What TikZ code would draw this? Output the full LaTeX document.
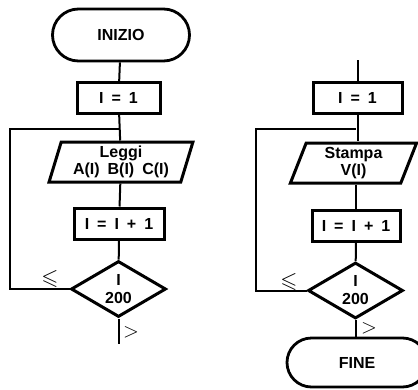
\documentclass[tikz,border=0pt]{standalone}
\usepackage{amssymb}
\usepackage{fontspec}
\setmainfont{Liberation Sans}[WordSpace=1.8]
\usetikzlibrary{shapes.geometric,shapes.misc}
\begin{document}
\begin{tikzpicture}[x=1pt, y=-1pt,
		every node/.style={font=\fontsize{16}{17}\selectfont\bfseries, align=center},
		box/.style={draw, line width=3pt, minimum width=#1, minimum height=31pt, inner sep=0pt},
		term/.style={draw, line width=2.8pt, rounded rectangle, minimum width=#1, minimum height=52pt, inner sep=0pt},
		io/.style={draw, line width=3pt, trapezium, trapezium left angle=73, trapezium right angle=107,
			trapezium stretches, minimum width=#1, minimum height=40pt, inner sep=0pt},
		test/.style={draw, line width=3pt, diamond, aspect=1.7, minimum width=95pt, minimum height=56pt,
			inner sep=0pt, font=\fontsize{16}{18}\selectfont\bfseries},
		flow/.style={line width=2pt},
		cmp/.style={font=\fontsize{22}{24}\selectfont}]
		\useasboundingbox (0,0) rectangle (418,389);
		
		% Lettura
		\node[term=137pt] (inizio) at (121, 35) {INIZIO};
		\node[box=83pt] (uno) at (118.5, 98) {I = 1};
		\node[io=144pt] (leggi) at (121, 162) {Leggi\\A(I) B(I) C(I)};
		\node[box=90pt] (incr) at (119, 223.5) {I = I + 1};
		\node[test] (test) at (118.5, 289) {I\\200};
		\coordinate (giu) at (118.5, 344);
		\coordinate (ritA) at (10, 289);
		\coordinate (ritB) at (10, 129);
		\coordinate (ritC) at (118.5, 129);
		
		\draw[flow] (inizio) -- (uno);
		\draw[flow] (uno) -- (leggi);
		\draw[flow] (leggi) -- (incr);
		\draw[flow] (incr) -- (test);
		\draw[flow] (test.west) -- (ritA) -- (ritB) -- (ritC);
		\draw[flow] (test.south) -- (giu);
		\node[cmp] (mi) at (50, 279) {$\leqslant$};
		\node[cmp] (ma) at (131, 332) {$>$};
		
		% Stampa
		\coordinate (su) at (357.5, 60);
		\node[box=89pt] (uno2) at (357.5, 97.5) {I = 1};
		\node[io=127pt] (stampa) at (353.5, 163) {Stampa\\V(I)};
		\node[box=88pt] (incr2) at (356, 226) {I = I + 1};
		\node[test] (test2) at (355.5, 290.5) {I\\200};
		\node[term=140pt, minimum height=49pt] (fine) at (357, 362.5) {FINE};
		\coordinate (ritD) at (256, 290.5);
		\coordinate (ritE) at (256, 129);
		\coordinate (ritF) at (355.5, 129);
		
		\draw[flow] (su) -- (uno2);
		\draw[flow] (uno2.south) -- (uno2.south |- stampa.north);
		\draw[flow] (stampa.south -| incr2.north) -- (incr2);
		\draw[flow] (incr2) -- (test2);
		\draw[flow] (test2.west) -- (ritD) -- (ritE) -- (ritF);
		\draw[flow] (test2.south) -- (test2.south |- fine.north);
		\node[cmp] (mi2) at (289, 282) {$\leqslant$};
		\node[cmp] (ma2) at (369, 328) {$>$};
	\end{tikzpicture}
\end{document}
